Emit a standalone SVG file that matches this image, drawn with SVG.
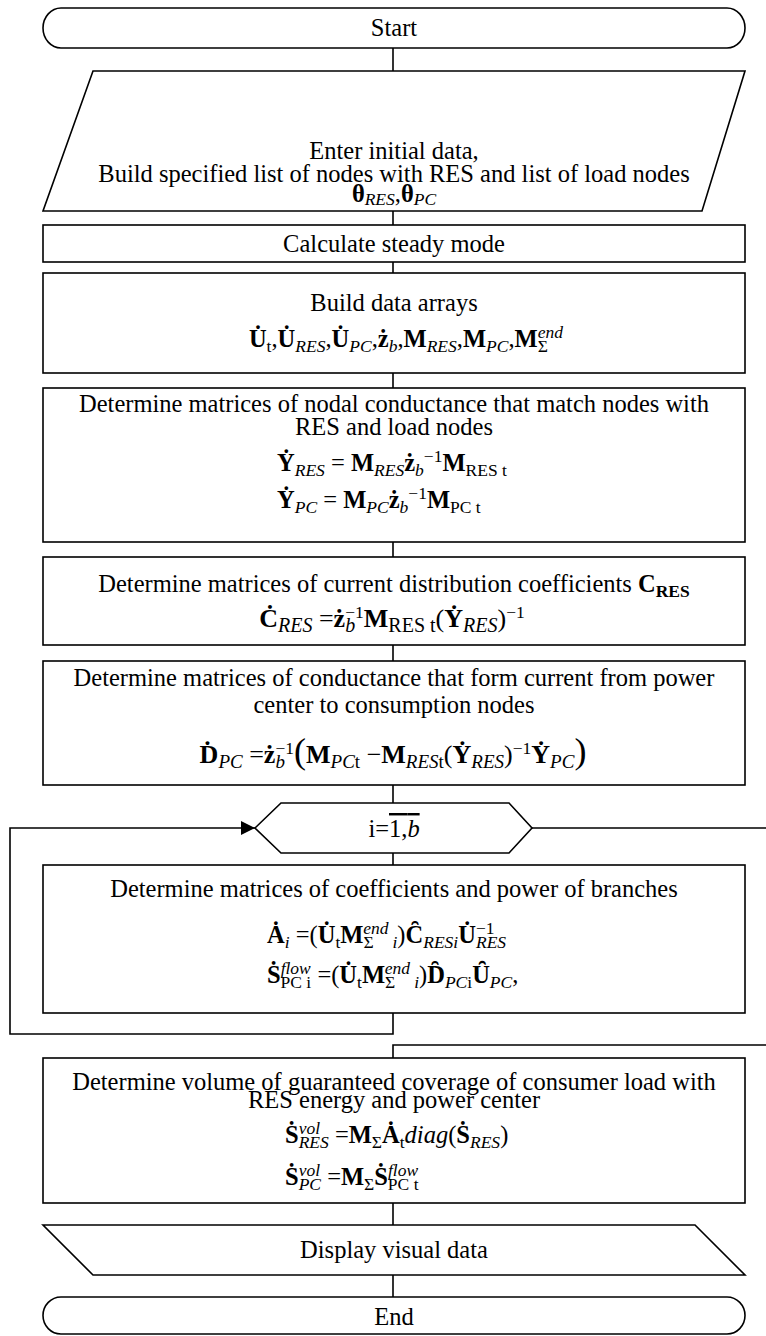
<svg xmlns="http://www.w3.org/2000/svg" width="766" height="1336" viewBox="0 0 766 1336">
<style>
.sh{fill:#fff;stroke:#000;stroke-width:1.6}
.cn{fill:none;stroke:#000;stroke-width:1.6}
.t{font-family:"Liberation Serif","Times New Roman",serif;font-size:24.5px;fill:#000}
.m{text-anchor:middle}
.b{font-weight:bold}
.i{font-style:italic}
.s{font-size:17.5px}
.s19{font-size:19px}
.s20{font-size:20px}
.f26{font-size:26px}
.lo{baseline-shift:-5px}
.hi{baseline-shift:9px}
.par{font-size:36px}
</style>
<defs>
<marker id="arr" viewBox="0 0 10 10" refX="10" refY="5" markerWidth="19" markerHeight="14" markerUnits="userSpaceOnUse" orient="auto"><path d="M0,0 L10,5 L0,10 z" fill="#000"/></marker>
</defs>
<rect width="766" height="1336" fill="#fff"/>
<g id="connectors">
<path class="cn" d="M393,48 V71"/>
<path class="cn" d="M393,211 V225"/>
<path class="cn" d="M393,262 V273"/>
<path class="cn" d="M393,373 V388"/>
<path class="cn" d="M393,542 V557"/>
<path class="cn" d="M393,645 V661"/>
<path class="cn" d="M393,785 V803"/>
<path class="cn" d="M393,853 V865"/>
<path class="cn" d="M393,1013 V1034 H10 V828 H255" marker-end="url(#arr)"/>
<path class="cn" d="M532,828 H772 V1045 H393 V1058"/>
<path class="cn" d="M393,1203 V1225"/>
<path class="cn" d="M393,1275 V1297"/>
</g>
<g id="start">
<rect class="sh" x="43" y="8" width="702" height="40" rx="18" ry="20"/>
<text class="t m" x="394" y="36">Start</text>
</g>
<g id="input">
<polygon class="sh" points="93,71 745,71 702,211 43,211"/>
<text class="t m" x="394" y="159">Enter initial data,</text>
<text class="t m" x="394" y="182">Build specified list of nodes with RES and list of load nodes</text>
<text class="t m" x="394" y="202"><tspan class="b">&#x3B8;</tspan><tspan class="s i" baseline-shift="-3">RES</tspan>,<tspan class="b">&#x3B8;</tspan><tspan class="s i" baseline-shift="-3">PC</tspan></text>
</g>
<g id="calc">
<rect class="sh" x="43" y="225" width="702" height="37"/>
<text class="t m" x="394" y="252">Calculate steady mode</text>
</g>
<g id="build">
<rect class="sh" x="43" y="273" width="702" height="100"/>
<text class="t m" x="394" y="311">Build data arrays</text>
<text class="t m" x="406" y="347"><tspan class="b">U&#x307;</tspan><tspan class="s lo">t</tspan>,<tspan class="b">U&#x307;</tspan><tspan class="s i lo">RES</tspan>,<tspan class="b">U&#x307;</tspan><tspan class="s i lo">PC</tspan>,<tspan class="b">&#x17C;</tspan><tspan class="s i lo">b</tspan>,<tspan class="b">M</tspan><tspan class="s i lo">RES</tspan>,<tspan class="b">M</tspan><tspan class="s i lo">PC</tspan>,<tspan class="b">M</tspan><tspan class="s lo">&#x3A3;</tspan><tspan class="s i hi" dx="-10">end</tspan></text>
</g>
<g id="nodal">
<rect class="sh" x="43" y="388" width="702" height="154"/>
<text class="t m" x="394" y="412">Determine matrices of nodal conductance that match nodes with</text>
<text class="t m" x="394" y="435">RES and load nodes</text>
<text class="t" x="277" y="471"><tspan class="b">&#x1E8E;</tspan><tspan class="s i lo">RES</tspan> = <tspan class="b">M</tspan><tspan class="s i lo">RES</tspan><tspan class="b">&#x17C;</tspan><tspan class="s i lo">b</tspan><tspan class="s hi">&#x2212;1</tspan><tspan class="b">M</tspan><tspan class="s lo">RES t</tspan></text>
<text class="t" x="277" y="508"><tspan class="b">&#x1E8E;</tspan><tspan class="s i lo">PC</tspan> = <tspan class="b">M</tspan><tspan class="s i lo">PC</tspan><tspan class="b">&#x17C;</tspan><tspan class="s i lo">b</tspan><tspan class="s hi">&#x2212;1</tspan><tspan class="b">M</tspan><tspan class="s lo">PC t</tspan></text>
</g>
<g id="coef">
<rect class="sh" x="43" y="557" width="702" height="88"/>
<text class="t m" x="394" y="592">Determine matrices of current distribution coefficients <tspan class="b">C</tspan><tspan class="b s lo">RES</tspan></text>
<text class="t m f26" x="392" y="627"><tspan class="b">&#x10A;</tspan><tspan class="s20 i lo">RES</tspan> =<tspan class="b">&#x17C;</tspan><tspan class="s20 i lo">b</tspan><tspan class="s hi" dx="-10">&#x2212;1</tspan><tspan class="b">M</tspan><tspan class="s20 lo">RES t</tspan>(<tspan class="b">&#x1E8E;</tspan><tspan class="s20 i lo">RES</tspan>)<tspan class="s hi">&#x2212;1</tspan></text>
</g>
<g id="cond">
<rect class="sh" x="43" y="661" width="702" height="124"/>
<text class="t m" x="394" y="686">Determine matrices of conductance that form current from power</text>
<text class="t m" x="394" y="713">center to consumption nodes</text>
<text class="t m f26" x="393" y="763"><tspan class="b">&#x1E0A;</tspan><tspan class="s19 i lo">PC</tspan> =<tspan class="b">&#x17C;</tspan><tspan class="s19 i lo">b</tspan><tspan class="s hi" dx="-9.5">&#x2212;1</tspan><tspan class="par">(</tspan><tspan class="b">M</tspan><tspan class="s19 lo"><tspan class="i">PC</tspan>t</tspan> &#x2212;<tspan class="b">M</tspan><tspan class="s19 lo"><tspan class="i">RES</tspan>t</tspan>(<tspan class="b">&#x1E8E;</tspan><tspan class="s19 i lo">RES</tspan>)<tspan class="s hi">&#x2212;1</tspan><tspan class="b">&#x1E8E;</tspan><tspan class="s19 i lo">PC</tspan><tspan class="par">)</tspan></text>
</g>
<g id="loop">
<polygon class="sh" points="255,828 281,803 509,803 532,828 509,853 281,853"/>
<text class="t m" x="394" y="837">i=<tspan style="text-decoration:overline">1,<tspan class="i">b</tspan></tspan></text>
</g>
<g id="branches">
<rect class="sh" x="43" y="865" width="702" height="148"/>
<text class="t m" x="394" y="897">Determine matrices of coefficients and power of branches</text>
<text class="t" x="267" y="943"><tspan class="b">&#x226;</tspan><tspan class="s i lo">i</tspan> =(<tspan class="b">U&#x307;</tspan><tspan class="s lo">t</tspan><tspan class="b">M</tspan><tspan class="s lo">&#x3A3;</tspan><tspan class="s i hi" dx="-10.4">end</tspan><tspan class="s i lo" dx="4">i</tspan>)<tspan class="b">C&#x311;</tspan><tspan class="s i lo">RESi</tspan><tspan class="b">U&#x307;</tspan><tspan class="s hi">&#x2212;1</tspan><tspan class="s i lo" dx="-18.6">RES</tspan></text>
<text class="t" x="267" y="983"><tspan class="b">&#x1E60;</tspan><tspan class="s i hi">flow</tspan><tspan class="s lo" dx="-30.2">PC i</tspan> =(<tspan class="b">U&#x307;</tspan><tspan class="s lo">t</tspan><tspan class="b">M</tspan><tspan class="s lo">&#x3A3;</tspan><tspan class="s i hi" dx="-10.4">end</tspan><tspan class="s i lo" dx="4">i</tspan>)<tspan class="b">D&#x311;</tspan><tspan class="s lo"><tspan class="i">PC</tspan>i</tspan><tspan class="b">U&#x311;</tspan><tspan class="s i lo">PC</tspan>,</text>
</g>
<g id="volume">
<rect class="sh" x="43" y="1058" width="702" height="145"/>
<text class="t m" x="394" y="1090">Determine volume of guaranteed coverage of consumer load with</text>
<text class="t m" x="394" y="1108">RES energy and power center</text>
<text class="t" x="285" y="1143"><tspan class="b">&#x1E60;</tspan><tspan class="s i hi">vol</tspan><tspan class="s i lo" dx="-21.4">RES</tspan> =<tspan class="b">M</tspan><tspan class="s lo">&#x3A3;</tspan><tspan class="b">&#x226;</tspan><tspan class="s lo">t</tspan><tspan class="i">diag</tspan>(<tspan class="b">&#x1E60;</tspan><tspan class="s i lo">RES</tspan>)</text>
<text class="t" x="285" y="1185"><tspan class="b">&#x1E60;</tspan><tspan class="s i hi">vol</tspan><tspan class="s i lo" dx="-21.4">PC</tspan> =<tspan class="b">M</tspan><tspan class="s lo">&#x3A3;</tspan><tspan class="b">&#x1E60;</tspan><tspan class="s i hi">flow</tspan><tspan class="s lo" dx="-30.2">PC t</tspan></text>
</g>
<g id="display">
<polygon class="sh" points="43,1225 695,1225 745,1275 93,1275"/>
<text class="t m" x="394" y="1258">Display visual data</text>
</g>
<g id="end">
<rect class="sh" x="43" y="1297" width="702" height="37" rx="18" ry="18.5"/>
<text class="t m" x="394" y="1325">End</text>
</g>
</svg>
